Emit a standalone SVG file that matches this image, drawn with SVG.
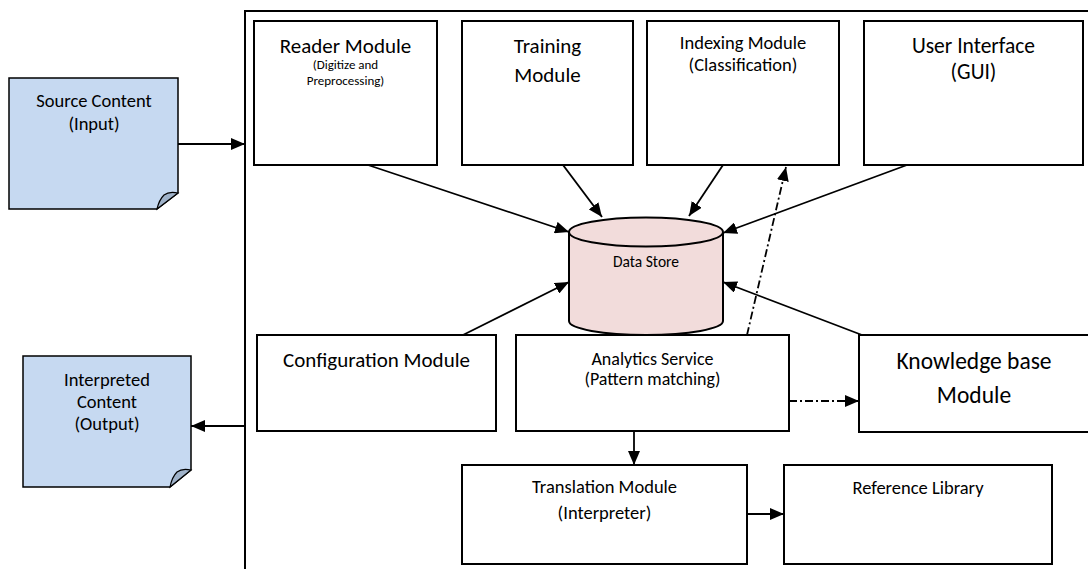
<svg xmlns="http://www.w3.org/2000/svg" width="1088" height="569" viewBox="0 0 1088 569">
<defs>
<marker id="ah" viewBox="0 0 14 12" refX="14" refY="6" markerWidth="14" markerHeight="12" markerUnits="userSpaceOnUse" orient="auto">
<path d="M0,0 L14,6 L0,12 Z" fill="#000"/>
</marker>
<style>
.box{fill:#fff;stroke:#000;stroke-width:2}
.note{fill:#c6d9f1;stroke:#000;stroke-width:1.5}
.fold{fill:#9fb2c9;stroke:#000;stroke-width:1.2}
.t{font-family:Carlito,Lato,"Liberation Sans",sans-serif;fill:#000;text-anchor:middle}
.c{stroke:#000;stroke-width:1.8;fill:none;marker-end:url(#ah)}
.dd{stroke-dasharray:8,3,2,3}
</style>
</defs>
<rect width="1088" height="569" fill="#fff"/>
<g id="frame"><path d="M245,569 V11 H1090" fill="none" stroke="#000" stroke-width="2"/></g>
<g id="source">
<path class="note" d="M9,78 H178 V193 L157,209 H9 Z"/>
<path class="fold" d="M157,209 L178,193 Q169,191 164,195 Q159,200 157,209 Z"/>
<text class="t" x="94" y="107" font-size="18.5">Source Content</text>
<text class="t" x="94" y="130" font-size="18.5">(Input)</text>
</g>
<g id="interpreted">
<path class="note" d="M23,356 H191 V470 L170,487 H23 Z"/>
<path class="fold" d="M170,487 L191,470 Q182,468 177,472 Q172,477 170,487 Z"/>
<text class="t" x="107" y="386" font-size="18.5">Interpreted</text>
<text class="t" x="107" y="408" font-size="18.5">Content</text>
<text class="t" x="107" y="430" font-size="18.5">(Output)</text>
</g>
<g id="reader">
<rect class="box" x="254" y="21" width="183" height="144"/>
<text class="t" x="345.5" y="53" font-size="21">Reader Module</text>
<text class="t" x="345.5" y="69" font-size="13">(Digitize and</text>
<text class="t" x="345.5" y="85" font-size="13">Preprocessing)</text>
</g>
<g id="training">
<rect class="box" x="462" y="21" width="171" height="144"/>
<text class="t" x="547.5" y="53" font-size="21">Training</text>
<text class="t" x="547.5" y="82" font-size="21">Module</text>
</g>
<g id="indexing">
<rect class="box" x="647" y="21" width="192" height="144"/>
<text class="t" x="743" y="49" font-size="18.5">Indexing Module</text>
<text class="t" x="743" y="71" font-size="18.5">(Classification)</text>
</g>
<g id="ui">
<rect class="box" x="864" y="21" width="219" height="144"/>
<text class="t" x="973.5" y="53" font-size="21.5">User Interface</text>
<text class="t" x="973.5" y="79" font-size="21.5">(GUI)</text>
</g>
<g id="datastore">
<path d="M569,232 V321 A77,14 0 0 0 723,321 V232 A77,14.5 0 0 0 569,232 Z" fill="#f2dcdb" stroke="#000" stroke-width="2"/>
<path d="M569,232 A77,14.5 0 0 0 723,232" fill="none" stroke="#000" stroke-width="2"/>
<text class="t" x="646" y="267" font-size="15.5">Data Store</text>
</g>
<g id="config">
<rect class="box" x="257" y="335" width="239" height="96"/>
<text class="t" x="376.5" y="367" font-size="21">Configuration Module</text>
</g>
<g id="analytics">
<rect class="box" x="516" y="335" width="273" height="96"/>
<text class="t" x="652.5" y="365" font-size="18">Analytics Service</text>
<text class="t" x="652.5" y="385" font-size="18">(Pattern matching)</text>
</g>
<g id="knowledge">
<rect class="box" x="859" y="335" width="240" height="97"/>
<text class="t" x="974" y="369" font-size="23.5">Knowledge base</text>
<text class="t" x="974" y="403" font-size="23.5">Module</text>
</g>
<g id="translation">
<rect class="box" x="462" y="465" width="285" height="99"/>
<text class="t" x="604.5" y="493" font-size="18.5">Translation Module</text>
<text class="t" x="604.5" y="519" font-size="18.5">(Interpreter)</text>
</g>
<g id="reference">
<rect class="box" x="784" y="465" width="268" height="99"/>
<text class="t" x="918" y="494" font-size="18.5">Reference Library</text>
</g>
<g id="connectors">
<line class="c" x1="178" y1="144" x2="245" y2="144"/>
<line class="c" x1="245" y1="426" x2="191" y2="426"/>
<line class="c" x1="368" y1="165" x2="569" y2="232"/>
<line class="c" x1="563" y1="165" x2="602" y2="217"/>
<line class="c" x1="723" y1="165" x2="689" y2="216"/>
<line class="c" x1="907" y1="165" x2="723" y2="233"/>
<line class="c" x1="463" y1="335" x2="569" y2="282"/>
<line class="c" x1="862" y1="335" x2="723" y2="282"/>
<line class="c dd" x1="747" y1="335" x2="786" y2="167"/>
<line class="c dd" x1="789" y1="401" x2="859" y2="401"/>
<line class="c" x1="634" y1="431" x2="634" y2="465"/>
<line class="c" x1="747" y1="514" x2="784" y2="514"/>
</g>
</svg>
